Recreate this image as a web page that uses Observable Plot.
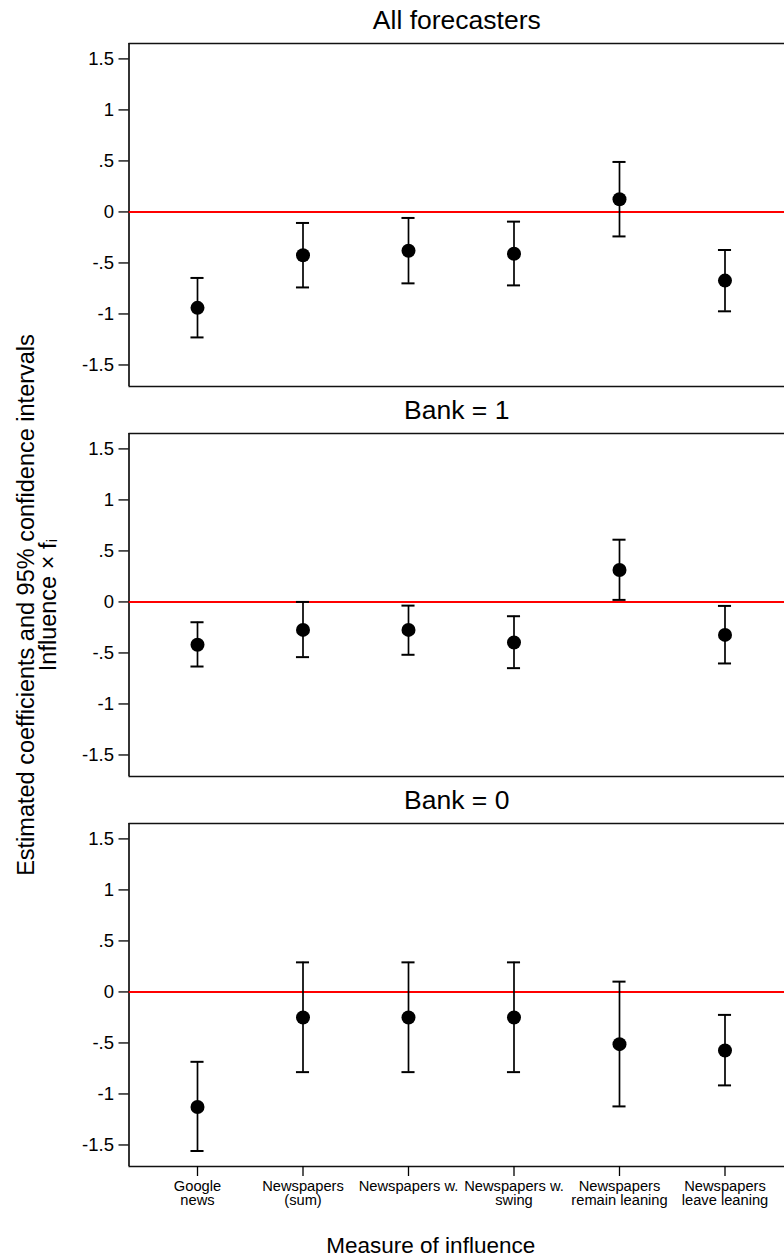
<!DOCTYPE html>
<html>
<head>
<meta charset="utf-8">
<script src="https://cdn.jsdelivr.net/npm/d3@7"></script>
<script src="https://cdn.jsdelivr.net/npm/@observablehq/plot@0.6"></script>
<style>
  html, body { margin: 0; padding: 0; background: #fff; }
  #chart svg { display: block; }
</style>
</head>
<body>
<div id="chart"></div>
<script>
// ---- data ----
const categories = ["Google\nnews", "Newspapers\n(sum)", "Newspapers w.", "Newspapers w.\nswing", "Newspapers\nremain leaning", "Newspapers\nleave leaning"];
const panels = ["All forecasters", "Bank = 1", "Bank = 0"];

const estAll = [-0.94, -0.425, -0.38, -0.41, 0.125, -0.673];
const loAll  = [-1.23, -0.74, -0.70, -0.72, -0.24, -0.974];
const hiAll  = [-0.647, -0.108, -0.059, -0.095, 0.49, -0.373];

const estBank1 = [-0.42, -0.274, -0.274, -0.398, 0.313, -0.323];
const loBank1  = [-0.633, -0.541, -0.518, -0.649, 0.02, -0.603];
const hiBank1  = [-0.199, 0.0, -0.036, -0.14, 0.61, -0.039];

const estBank0 = [-1.128, -0.251, -0.251, -0.251, -0.512, -0.574];
const loBank0  = [-1.559, -0.786, -0.786, -0.786, -1.122, -0.916];
const hiBank0  = [-0.685, 0.29, 0.29, 0.29, 0.101, -0.225];

const yTicks = [-1.5, -1, -0.5, 0, 0.5, 1, 1.5];
const yTitle = "Estimated coefficients and 95% confidence intervals\nInfluence × fᵢ";
const xTitle = "Measure of influence";

// ---- build table ----
const series = [
  [panels[0], estAll, loAll, hiAll],
  [panels[1], estBank1, loBank1, hiBank1],
  [panels[2], estBank0, loBank0, hiBank0]
];
const rows = [];
for (const [panel, est, lo, hi] of series) {
  categories.forEach((c, i) => rows.push({panel, pos: i + 1, est: est[i], lo: lo[i], hi: hi[i]}));
}

const xDomain = [0.3507, 6.564];
const yDomain = [-1.711, 1.651];
const capHalf = 0.062;
const stata = v => v === 0 ? "0" : String(v).replace(/^(-?)0\./, "$1.");
const font = "'Liberation Sans', Arial, Helvetica, sans-serif";

const chart = Plot.plot({
  width: 784,
  height: 1257,
  marginTop: 42,
  marginBottom: 89.7,
  marginLeft: 128.5,
  marginRight: 0,
  style: {fontFamily: font, background: "#fff", color: "#000"},
  x: {domain: xDomain, axis: null},
  y: {domain: yDomain, axis: null},
  fy: {domain: panels, paddingInner: 0.1194, paddingOuter: 0, axis: null},
  marks: [
    // frame lines (left, top, bottom)
    Plot.ruleX([xDomain[0]], {stroke: "#111", strokeWidth: 1.7}),
    Plot.ruleY(yDomain, {stroke: "#111", strokeWidth: 1.7}),
    // zero line
    Plot.ruleY([0], {stroke: "#ff0000", strokeWidth: 2}),
    // confidence intervals
    Plot.ruleX(rows, {x: "pos", y1: "lo", y2: "hi", fy: "panel", stroke: "#000", strokeWidth: 1.7}),
    Plot.ruleY(rows, {y: "lo", x1: d => d.pos - capHalf, x2: d => d.pos + capHalf, fy: "panel", stroke: "#000", strokeWidth: 2}),
    Plot.ruleY(rows, {y: "hi", x1: d => d.pos - capHalf, x2: d => d.pos + capHalf, fy: "panel", stroke: "#000", strokeWidth: 2}),
    // point estimates
    Plot.dot(rows, {x: "pos", y: "est", fy: "panel", r: 7, fill: "#000", stroke: null}),
    // axes
    Plot.axisY({ticks: yTicks, tickFormat: stata, tickSize: 10, tickPadding: 5, fontSize: 18.5, strokeWidth: 1.3, label: null}),
    Plot.axisX({ticks: [1, 2, 3, 4, 5, 6], tickFormat: i => categories[i - 1], tickSize: 10, tickPadding: 5, fontSize: 14.7, lineHeight: 0.92, strokeWidth: 1.3, label: null}),
    // panel titles
    Plot.text(panels, {fy: d => d, text: d => d, frameAnchor: "top", lineAnchor: "bottom", dy: -14.7, fontSize: 26.5, fill: "#000"}),
    // y-axis title (middle panel only)
    Plot.text([panels[1]], {fy: d => d, text: () => yTitle, frameAnchor: "left", rotate: -90, lineAnchor: "bottom", textAnchor: "middle", dx: -73.5, fontSize: 23.5, lineHeight: 0.936, fill: "#000"}),
    // x-axis title (bottom panel only)
    Plot.text([panels[2]], {fy: d => d, text: () => xTitle, frameAnchor: "bottom", lineAnchor: "bottom", dy: 86.7, dx: -26, fontSize: 22.5, fill: "#000"})
  ]
});

document.getElementById("chart").appendChild(chart);
</script>
</body>
</html>
